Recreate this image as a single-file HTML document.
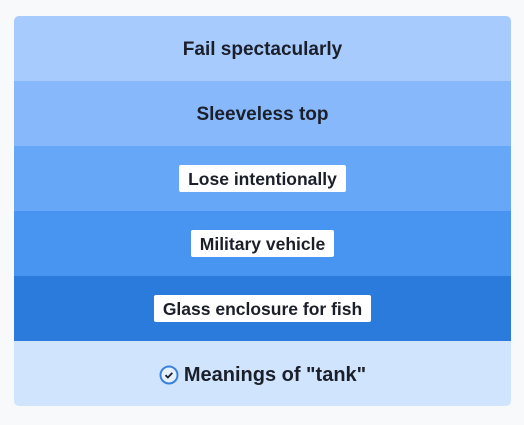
<!DOCTYPE html>
<html><head><meta charset="utf-8"><style>
html,body{margin:0;padding:0;width:524px;height:425px;background:#f8f9fb;font-family:"Liberation Sans",sans-serif;overflow:hidden}
.card{position:absolute;left:14px;top:16px;width:497px;height:390px;border-radius:5px;overflow:hidden}
.row{height:65px;box-sizing:border-box;padding-top:3px;display:flex;align-items:center;justify-content:center;font-size:19px;font-weight:bold;color:#1b1f2a}
.lbl{background:#fff;border-radius:2px;padding:0 9px;height:27px;line-height:28px;font-size:17.5px;margin-top:-4px}
</style></head><body>
<div class="card">
<div class="row" style="background:#a8cbfd">Fail spectacularly</div>
<div class="row" style="background:#87b8fb">Sleeveless top</div>
<div class="row" style="background:#66a7f8"><span class="lbl">Lose intentionally</span></div>
<div class="row" style="background:#4795f1"><span class="lbl">Military vehicle</span></div>
<div class="row" style="background:#2b7bdc"><span class="lbl">Glass enclosure for fish</span></div>
<div class="row" style="background:#d0e5fd;font-size:20px">
<svg width="20" height="20" viewBox="0 0 20 20" style="margin-right:5px"><circle cx="10" cy="10" r="8.5" fill="#e6f0fd" stroke="#3a82e0" stroke-width="2"/><path d="M6.5 10.2l2.4 2.3 4.4-4.6" fill="none" stroke="#1b1f2a" stroke-width="1.8"/></svg>
<span>Meanings of "tank"</span></div>
</div>
</body></html>
